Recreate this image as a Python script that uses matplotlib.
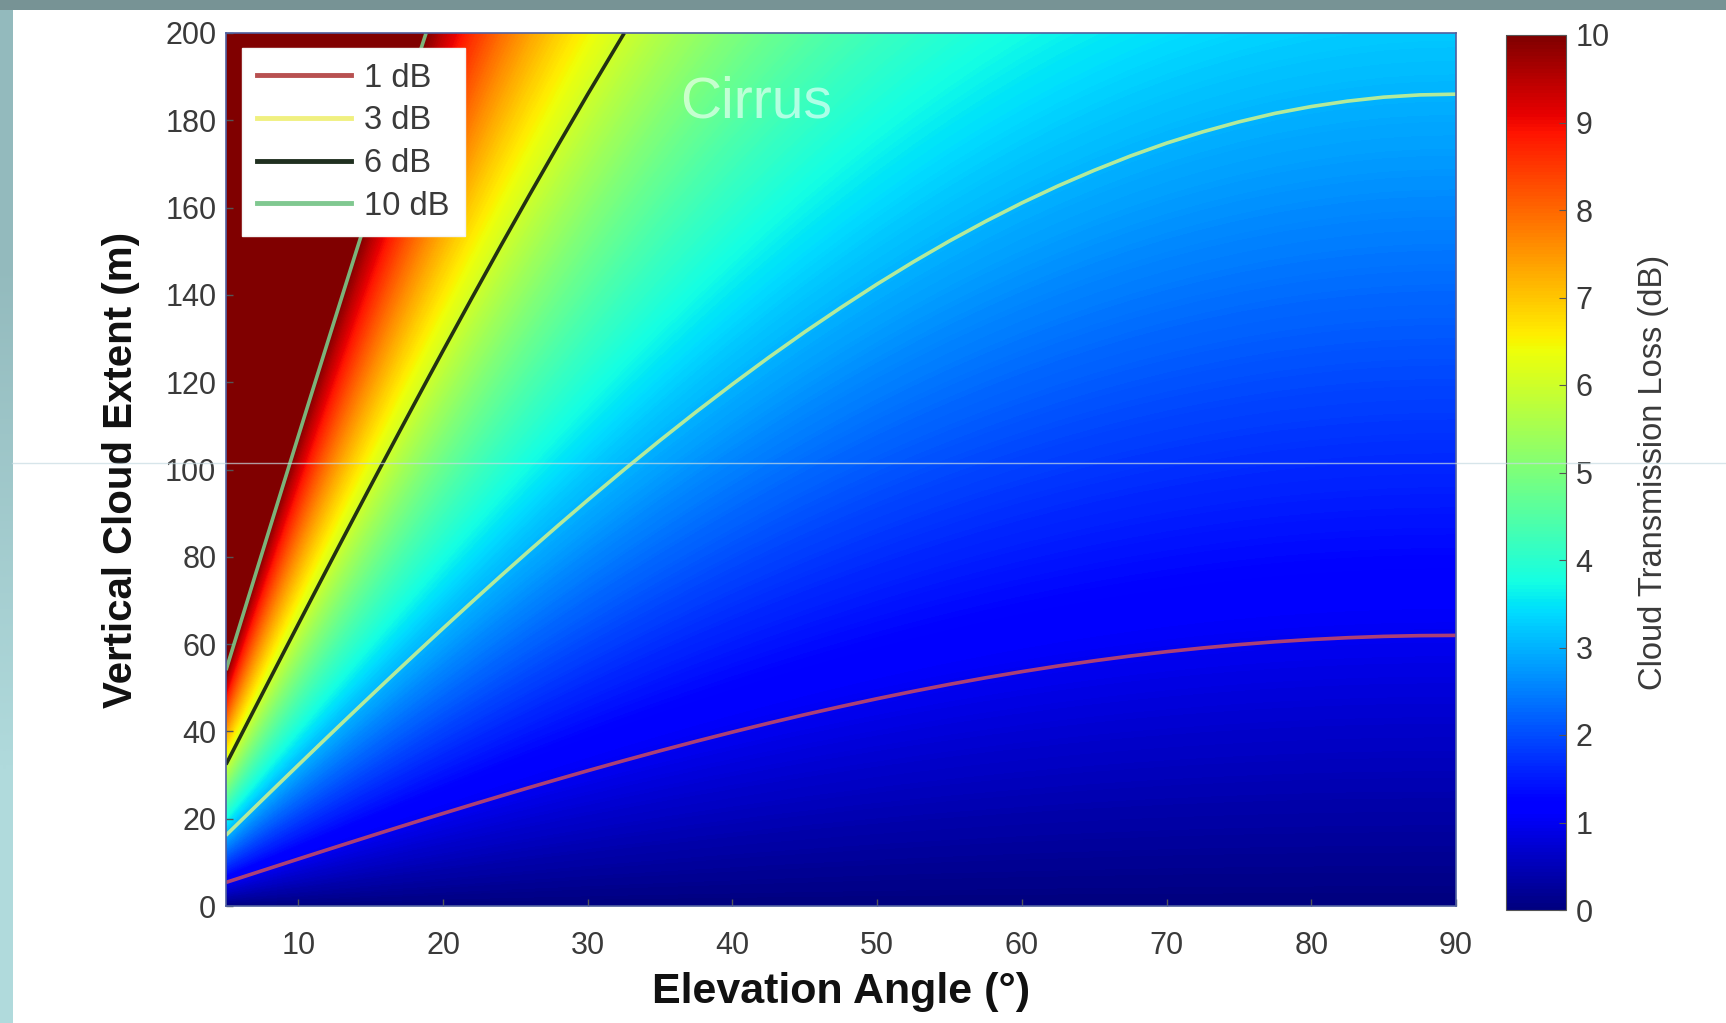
import matplotlib
matplotlib.use('Agg')
import matplotlib.pyplot as plt
import numpy as np
from matplotlib.lines import Line2D
from matplotlib.patches import Rectangle
from matplotlib import cm, colors

plt.rcParams['font.family'] = ['Liberation Sans', 'DejaVu Sans']

#? Values
# elevation angle samples [deg]
elev_deg = [5, 6, 7, 8, 9, 10, 11, 12, 13, 14, 15, 16, 17, 18, 19, 20,
            22, 24, 26, 28, 30, 32.5, 35, 37.5, 40, 42.5, 45, 47.5, 50,
            52.5, 55, 57.5, 60, 62.5, 65, 67.5, 70, 72.5, 75, 77.5, 80,
            82.5, 85, 87.5, 90]
# cloud transmission loss at the top of the chart (200 m extent) [dB]
loss_200m = [37.014, 30.863, 26.471, 23.180, 20.622, 18.578, 16.907, 15.516,
             14.341, 13.335, 12.464, 11.704, 11.034, 10.440, 9.909, 9.432,
             8.612, 7.931, 7.359, 6.872, 6.452, 6.004, 5.624, 5.299, 5.019,
             4.775, 4.562, 4.376, 4.211, 4.066, 3.938, 3.825, 3.725, 3.637,
             3.560, 3.492, 3.433, 3.383, 3.340, 3.304, 3.276, 3.254, 3.238,
             3.229, 3.226]
# and at the bottom (0 m extent) [dB]
loss_0m = [0.0] * len(elev_deg)
extent_m = [0, 200]

contour_levels = [1, 3, 6, 10]
contour_labels = ['1 dB', '3 dB', '6 dB', '10 dB']
contour_colors = ['#c04868', '#c8f090', '#101a10', '#7cc888']
legend_colors = ['#b85050', '#f0f080', '#203020', '#80c890']

x_ticks = [10, 20, 30, 40, 50, 60, 70, 80, 90]
y_ticks = [0, 20, 40, 60, 80, 100, 120, 140, 160, 180, 200]
cb_ticks = [0, 1, 2, 3, 4, 5, 6, 7, 8, 9, 10]

W, H = 1726, 1023
fig = plt.figure(figsize=(W / 100, H / 100), dpi=100)
fig.patch.set_facecolor('white')

# slide decoration: grey-teal band on top, teal band on the left
fig.add_artist(Rectangle((0, 1 - 10 / H), 1, 10 / H, transform=fig.transFigure,
                         facecolor='#779395', edgecolor='none', zorder=0))
axl = fig.add_axes([0, 0, 12 / W, 1 - 10 / H])
axl.imshow([[0], [1]], cmap=colors.LinearSegmentedColormap.from_list(
    'edge', ['#93babd', '#b0dadc']), aspect='auto', interpolation='bilinear',
    extent=[0, 1, 0, 1], origin='upper')
axl.set_axis_off()

#? Main panel
ax = fig.add_axes([226 / W, 1 - 906 / H, 1230 / W, 873 / H])
Z = np.array([loss_0m, loss_200m])
fill_levels = np.linspace(0, 10, 401)
ax.contourf(elev_deg, extent_m, Z, levels=fill_levels, cmap='jet', extend='max')
ax.contour(elev_deg, extent_m, Z, levels=contour_levels, colors=contour_colors,
           linewidths=2.6, alpha=0.9)

ax.set_xlim(5, 90)
ax.set_ylim(0, 200)
ax.set_xticks(x_ticks)
ax.set_yticks(y_ticks)
ax.tick_params(direction='in', length=5, width=1, colors='#555555',
               labelcolor='#3a3a3a', labelsize=22)
ax.tick_params(axis='x', pad=18)
ax.tick_params(axis='y', pad=7)
for sp in ax.spines.values():
    sp.set_color('#5060a0')
    sp.set_linewidth(1.2)

ax.set_xlabel('Elevation Angle (°)', fontsize=31, fontweight='bold',
              color='#111111', labelpad=8)
ax.set_ylabel('Vertical Cloud Extent (m)', fontsize=29, fontweight='bold',
              color='#111111', labelpad=18)

ax.text(36.4, 184, 'Cirrus', fontsize=41, color='white', alpha=0.6,
        ha='left', va='center')

handles = [Line2D([], [], color=c, lw=3.5) for c in legend_colors]
leg = ax.legend(handles, contour_labels, loc='upper left',
                bbox_to_anchor=(0.013, 0.983), borderaxespad=0,
                fontsize=23.5, handlelength=2.9, handletextpad=0.4,
                labelspacing=0.36, borderpad=0.45, fancybox=False,
                framealpha=1, edgecolor='#f4f4f4')
for t in leg.get_texts():
    t.set_color('#3a3a3a')
leg.set_zorder(10)

#? Colour bar
cax = fig.add_axes([1506 / W, 1 - 910 / H, 60 / W, 875 / H])
sm = cm.ScalarMappable(norm=colors.Normalize(0, 10), cmap='jet')
cb = fig.colorbar(sm, cax=cax, ticks=cb_ticks)
cb.outline.set_edgecolor('#555555')
cb.ax.tick_params(direction='in', length=5, colors='#555555',
                  labelcolor='#3a3a3a', labelsize=22, pad=7)
cb.set_label('Cloud Transmission Loss (dB)', fontsize=23.5, color='#3a3a3a',
             labelpad=20)

# faint horizontal scan line across the slide
fig.add_artist(Line2D([12 / W, 1], [1 - 463 / H, 1 - 463 / H],
                      transform=fig.transFigure, color='#c6dbe2', lw=1,
                      alpha=0.7, zorder=20))

fig.savefig('out.png', dpi=100)
